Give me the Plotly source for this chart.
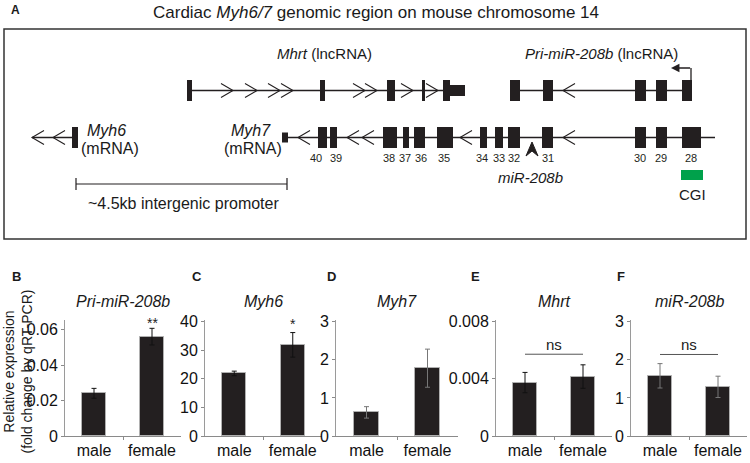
import plotly.graph_objects as go

W, H = 750, 463
FONT = "Liberation Sans, Arial, sans-serif"

# ---------------- bar chart data (panels B-F) ----------------
groups = ["male", "female"]
pri_mir208b_vals = [0.0241, 0.0561]
pri_mir208b_err = [0.0028, 0.0047]
myh6_vals = [21.9, 31.9]
myh6_err = [0.8, 4.3]
myh7_vals = [0.62, 1.78]
myh7_err = [0.15, 0.50]
mhrt_vals = [0.00373, 0.00415]
mhrt_err = [0.00071, 0.00082]
mir208b_vals = [1.58, 1.29]
mir208b_err = [0.32, 0.28]

b_ticks = [0, 0.02, 0.04, 0.06]
b_ticktext = ["0", "0.02", "0.04", "0.06"]
c_ticks = [0, 10, 20, 30, 40]
d_ticks = [0, 1, 2, 3]
e_ticks = [0, 0.004, 0.008]
e_ticktext = ["0", "0.004", "0.008"]
f_ticks = [0, 1, 2, 3]

# ---------------- gene diagram data (panel A), diagram units ----------------
mhrt_span = [188, 465]
mhrt_exons = [(187, 192), (320, 325), (387, 395), (422, 425), (443, 450)]
mhrt_utr = [(450, 465)]
mhrt_chevrons = [233, 257, 280, 293, 365, 377, 413, 438]      # pointing right
pri_span = [510, 692]
pri_exons = [(510, 520), (543, 553), (635, 646), (656, 667), (682, 692)]
pri_chevrons = [563]                                          # pointing left
pri_tss = 691
myh6_span = [32, 72]
myh6_exons = [(72, 78)]
myh6_chevrons = [32, 53]
myh7_span = [285, 715]
myh7_utr = [(282, 288)]
myh7_exons = [(318, 327), (330, 337), (383, 397), (403, 409), (414, 425), (437, 453),
              (480, 487), (495, 503), (508, 520), (542, 553), (635, 646), (656, 667), (682, 701)]
myh7_exon_numbers = ["40", "39", "38", "37", "36", "35", "34", "33", "32", "31", "30", "29", "28"]
myh7_number_x = [316, 336, 389, 405, 421, 444, 482, 499, 514, 548, 640, 661, 691]
myh7_chevrons = [298, 347, 362, 460, 563]                     # pointing left
mir208b_site = 532
cgi_span = (681, 703)
promoter_span = (76, 287)

TOP_Y, BOT_Y = 90.5, 137.5
EXON_H, UTR_H = 10.5, 5.5
CHEV_W, CHEV_H = 12, 7

fig = go.Figure()

shapes = []
annotations = []

def rect(x0, x1, yc, h, color="#231f20"):
    shapes.append(dict(type="rect", xref="x6", yref="y6", x0=x0, x1=x1, y0=yc - h, y1=yc + h,
                       fillcolor=color, line=dict(width=0)))

def hline(x0, x1, y, color="#231f20", w=1.3):
    shapes.append(dict(type="line", xref="x6", yref="y6", x0=x0, x1=x1, y0=y, y1=y,
                       line=dict(color=color, width=w)))

def chevrons(xs, y, direction):
    px, py = [], []
    for x in xs:
        d = -CHEV_W if direction == "right" else CHEV_W
        px += [x + d, x, x + d, None]
        py += [y - CHEV_H, y, y + CHEV_H, None]
    fig.add_trace(go.Scatter(x=px, y=py, mode="lines", line=dict(color="#231f20", width=1.1),
                             xaxis="x6", yaxis="y6", hoverinfo="skip", showlegend=False))

# panel box
shapes.append(dict(type="rect", xref="x6", yref="y6", x0=4, x1=746, y0=29, y1=239,
                   line=dict(color="#333", width=1.5), fillcolor="rgba(0,0,0,0)"))

# top track
hline(*mhrt_span, TOP_Y)
for a, b in mhrt_exons:
    rect(a, b, TOP_Y, EXON_H)
for a, b in mhrt_utr:
    rect(a, b, TOP_Y, UTR_H)
chevrons(mhrt_chevrons, TOP_Y, "right")
hline(*pri_span, TOP_Y)
for a, b in pri_exons:
    rect(a, b, TOP_Y, EXON_H)
chevrons(pri_chevrons, TOP_Y, "left")
# TSS arrow
shapes.append(dict(type="line", xref="x6", yref="y6", x0=pri_tss, x1=pri_tss,
                   y0=TOP_Y - EXON_H, y1=68, line=dict(color="#231f20", width=1.3)))
annotations.append(dict(xref="x6", yref="y6", axref="x6", ayref="y6", x=671, y=68,
                        ax=pri_tss + 0.6, ay=68, text="", showarrow=True, arrowhead=2,
                        arrowsize=1.3, arrowwidth=1.3, arrowcolor="#231f20"))

# bottom track
hline(*myh6_span, BOT_Y)
for a, b in myh6_exons:
    rect(a, b, BOT_Y, EXON_H)
chevrons(myh6_chevrons, BOT_Y, "left")
hline(*myh7_span, BOT_Y)
for a, b in myh7_utr:
    rect(a, b, BOT_Y, 5)
for a, b in myh7_exons:
    rect(a, b, BOT_Y, EXON_H)
chevrons(myh7_chevrons, BOT_Y, "left")
for lab, x in zip(myh7_exon_numbers, myh7_number_x):
    annotations.append(dict(xref="x6", yref="y6", x=x, y=158, text=lab, showarrow=False,
                            font=dict(size=11, family=FONT, color="#231f20")))
# miR-208b arrowhead
m = mir208b_site
fig.add_trace(go.Scatter(x=[m, m + 6, m, m - 6, m], y=[142, 156, 151, 156, 142], mode="lines",
                         fill="toself", fillcolor="#231f20", line=dict(color="#231f20", width=1),
                         xaxis="x6", yaxis="y6", hoverinfo="skip", showlegend=False))
# CGI
shapes.append(dict(type="rect", xref="x6", yref="y6", x0=cgi_span[0], x1=cgi_span[1], y0=170, y1=180,
                   fillcolor="#00a14b", line=dict(width=0)))
# promoter bracket
hline(promoter_span[0], promoter_span[1], 184, w=1.2)
for x in promoter_span:
    shapes.append(dict(type="line", xref="x6", yref="y6", x0=x, x1=x, y0=178, y1=190,
                       line=dict(color="#231f20", width=1.2)))

def txt(x, y, s, size, bold=False, xanchor="center"):
    annotations.append(dict(xref="x6", yref="y6", x=x, y=y, text=("<b>%s</b>" % s) if bold else s,
                            showarrow=False, xanchor=xanchor, yanchor="middle",
                            font=dict(size=size, family=FONT, color="#1a1a1a")))

txt(9, 10, "A", 12, bold=True, xanchor="left")
txt(376, 12, "Cardiac <i>Myh6/7</i> genomic region on mouse chromosome 14", 17)
txt(324, 53, "<i>Mhrt</i> (lncRNA)", 15)
txt(601, 53, "<i>Pri-miR-208b</i> (lncRNA)", 15)
txt(106, 130, "<i>Myh6</i>", 16)
txt(110, 148, "(mRNA)", 16)
txt(251, 130, "<i>Myh7</i>", 16)
txt(253, 148, "(mRNA)", 16)
txt(530, 177, "<i>miR-208b</i>", 15)
txt(692, 194, "CGI", 15)
txt(183, 203, "~4.5kb intergenic promoter", 16)

# ---------------- bar panels ----------------
panels = [
    dict(letter="B", title="Pri-miR-208b", vals=pri_mir208b_vals, err=pri_mir208b_err,
         yr=[0, 0.0655], tv=b_ticks, tt=b_ticktext, dom=[65, 181], ecol="#111",
         sig="**", sig_y=0.0636, ns_y=None, letter_x=10),
    dict(letter="C", title="Myh6", vals=myh6_vals, err=myh6_err,
         yr=[0, 40.6], tv=c_ticks, tt=[str(v) for v in c_ticks], dom=[205, 322], ecol="#111",
         sig="*", sig_y=39.2, ns_y=None, letter_x=190),
    dict(letter="D", title="Myh7", vals=myh7_vals, err=myh7_err,
         yr=[0, 3.045], tv=d_ticks, tt=[str(v) for v in d_ticks], dom=[336, 458], ecol="#777",
         sig=None, sig_y=None, ns_y=None, letter_x=325),
    dict(letter="E", title="Mhrt", vals=mhrt_vals, err=mhrt_err,
         yr=[0, 0.0081], tv=e_ticks, tt=e_ticktext, dom=[496, 612], ecol="#111",
         sig=None, sig_y=None, ns_y=0.00571, letter_x=469),
    dict(letter="F", title="miR-208b", vals=mir208b_vals, err=mir208b_err,
         yr=[0, 3.045], tv=f_ticks, tt=[str(v) for v in f_ticks], dom=[631, 747], ecol="#777",
         sig=None, sig_y=None, ns_y=2.14, letter_x=615),
]

Y0, Y1 = 1 - 436 / H, 1 - 320 / H
layout_axes = {}
for i, p in enumerate(panels, start=1):
    xa = "x" if i == 1 else "x%d" % i
    ya = "y" if i == 1 else "y%d" % i
    fig.add_trace(go.Bar(x=[0, 1], y=p["vals"], width=0.41, xaxis=xa, yaxis=ya,
                         marker=dict(color="#231f20", line=dict(color="#b0b0b0", width=1)),
                         error_y=dict(type="data", array=p["err"], color=p["ecol"],
                                      thickness=1, width=2.5),
                         showlegend=False, hoverinfo="skip"))
    key = "" if i == 1 else str(i)
    layout_axes["xaxis" + key] = dict(domain=[p["dom"][0] / W, p["dom"][1] / W], range=[-0.5, 1.5],
                                      anchor=ya, tickvals=[0, 1], ticktext=groups, ticks="",
                                      showline=True, linecolor="#8a8a8a", linewidth=1.2,
                                      showgrid=False, zeroline=False, automargin=False,
                                      tickfont=dict(size=16, family=FONT, color="#111"),
                                      minor=dict(tickmode="array", tickvals=[0.5], ticks="outside",
                                                 ticklen=3, tickcolor="#8a8a8a", showgrid=False),
                                      fixedrange=True)
    layout_axes["yaxis" + key] = dict(domain=[Y0, Y1], range=p["yr"], anchor=xa,
                                      tickvals=p["tv"], ticktext=p["tt"], ticks="outside",
                                      ticklen=3, tickcolor="#8a8a8a", showline=True,
                                      linecolor="#9a9a9a", linewidth=1, showgrid=False,
                                      zeroline=False, automargin=False, ticklabelstandoff=0,
                                      tickfont=dict(size=16, family=FONT, color="#111"),
                                      fixedrange=True)
    center = (p["dom"][0] + p["dom"][1]) / 2
    txt(center, 301, "<i>%s</i>" % p["title"], 16)
    txt(p["letter_x"], 276, p["letter"], 13, bold=True, xanchor="left")
    if p["sig"]:
        annotations.append(dict(xref=xa, yref=ya, x=1, y=p["sig_y"], text=p["sig"], showarrow=False,
                                font=dict(size=14, family=FONT, color="#222")))
    if p["ns_y"] is not None:
        shapes.append(dict(type="line", xref=xa, yref=ya, x0=0, x1=1, y0=p["ns_y"], y1=p["ns_y"],
                           line=dict(color="#555", width=1)))
        annotations.append(dict(xref=xa, yref=ya, x=0.5, y=p["ns_y"], text="ns", showarrow=False,
                                yanchor="bottom", yshift=-1,
                                font=dict(size=15, family=FONT, color="#222")))

# shared y-axis title
annotations.append(dict(xref="x6", yref="y6", x=17.5, y=372,
                        text="Relative expression<br>(fold change by qRT-PCR)", showarrow=False,
                        textangle=-90, font=dict(size=14, family=FONT, color="#1a1a1a")))

fig.update_layout(
    width=W, height=H, margin=dict(l=0, r=0, t=0, b=0),
    template="none", paper_bgcolor="white", plot_bgcolor="rgba(0,0,0,0)",
    xaxis6=dict(domain=[0, 1], range=[0, W], visible=False, fixedrange=True, anchor="y6"),
    yaxis6=dict(domain=[0, 1], range=[H, 0], visible=False, fixedrange=True, anchor="x6"),
    shapes=shapes, annotations=annotations, bargap=0, showlegend=False,
    **layout_axes,
)
fig.write_html("out.html", config={"displayModeBar": False},
               post_script="document.body.style.margin='0px';document.body.style.overflow='hidden';")
